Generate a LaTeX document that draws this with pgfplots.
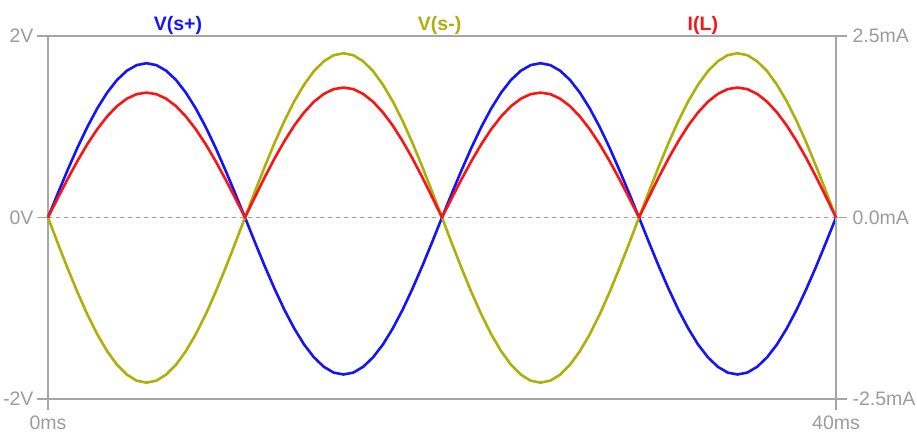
\documentclass[border=0pt]{standalone}
\usepackage{fontspec}
\setmainfont{Liberation Sans}
\usepackage{pgfplots}
\usepackage{pgfplotstable}
\pgfplotsset{compat=1.18}

\definecolor{vsp}{RGB}{20,20,250}
\definecolor{vsm}{RGB}{175,175,10}
\definecolor{il}{RGB}{250,20,20}
\definecolor{axgray}{RGB}{165,165,165}
\definecolor{lblgray}{RGB}{155,155,160}

% t [ms], V(s+) [V], V(s-) [V], I(L) [mA]
\pgfplotstableread{
t vsp vsm il
0 0 0 0
0.5 0.266 -0.285 0.269
1 0.525 -0.562 0.531
1.5 0.772 -0.826 0.781
2 0.999 -1.070 1.011
2.5 1.202 -1.287 1.216
3 1.375 -1.472 1.391
3.5 1.515 -1.622 1.533
4 1.617 -1.731 1.636
4.5 1.679 -1.798 1.699
5 1.700 -1.820 1.720
5.5 1.679 -1.798 1.699
6 1.617 -1.731 1.636
6.5 1.515 -1.622 1.533
7 1.375 -1.472 1.391
7.5 1.202 -1.287 1.216
8 0.999 -1.070 1.011
8.5 0.772 -0.826 0.781
9 0.525 -0.562 0.531
9.5 0.266 -0.285 0.269
10 0 0 0
10.5 -0.271 0.283 0.280
11 -0.535 0.559 0.553
11.5 -0.785 0.822 0.813
12 -1.017 1.064 1.052
12.5 -1.223 1.280 1.266
13 -1.400 1.464 1.448
13.5 -1.541 1.613 1.595
14 -1.645 1.721 1.702
14.5 -1.709 1.788 1.768
15 -1.730 1.810 1.790
15.5 -1.709 1.788 1.768
16 -1.645 1.721 1.702
16.5 -1.541 1.613 1.595
17 -1.400 1.464 1.448
17.5 -1.223 1.280 1.266
18 -1.017 1.064 1.052
18.5 -0.785 0.822 0.813
19 -0.535 0.559 0.553
19.5 -0.271 0.283 0.280
20 0 0 0
20.5 0.266 -0.285 0.269
21 0.525 -0.562 0.531
21.5 0.772 -0.826 0.781
22 0.999 -1.070 1.011
22.5 1.202 -1.287 1.216
23 1.375 -1.472 1.391
23.5 1.515 -1.622 1.533
24 1.617 -1.731 1.636
24.5 1.679 -1.798 1.699
25 1.700 -1.820 1.720
25.5 1.679 -1.798 1.699
26 1.617 -1.731 1.636
26.5 1.515 -1.622 1.533
27 1.375 -1.472 1.391
27.5 1.202 -1.287 1.216
28 0.999 -1.070 1.011
28.5 0.772 -0.826 0.781
29 0.525 -0.562 0.531
29.5 0.266 -0.285 0.269
30 0 0 0
30.5 -0.271 0.283 0.280
31 -0.535 0.559 0.553
31.5 -0.785 0.822 0.813
32 -1.017 1.064 1.052
32.5 -1.223 1.280 1.266
33 -1.400 1.464 1.448
33.5 -1.541 1.613 1.595
34 -1.645 1.721 1.702
34.5 -1.709 1.788 1.768
35 -1.730 1.810 1.790
35.5 -1.709 1.788 1.768
36 -1.645 1.721 1.702
36.5 -1.541 1.613 1.595
37 -1.400 1.464 1.448
37.5 -1.223 1.280 1.266
38 -1.017 1.064 1.052
38.5 -0.785 0.822 0.813
39 -0.535 0.559 0.553
39.5 -0.271 0.283 0.280
40 0 0 0
}\wave

\pgfplotsset{
  scopestyle/.style={
    width=788pt, height=363pt, scale only axis,
    xmin=0, xmax=40,
    axis line style={axgray, line width=1.6pt},
    major tick style={axgray, line width=1.6pt},
    tick align=outside, major tick length=11pt,
    tick label style={lblgray, font=\fontsize{19.5}{21}\selectfont},
    clip=false,
  }
}

\begin{document}
\begin{tikzpicture}
\useasboundingbox (-48pt,-36pt) rectangle (869pt,399pt);

\begin{axis}[scopestyle,
  ymin=-2, ymax=2,
  xtick={0,40}, xticklabels={0ms,40ms}, xtick pos=bottom,
  ytick={-2,0,2}, yticklabels={-2V,0V,2V}, ytick pos=left,
  xticklabel style={yshift=-2pt},
]
\addplot[lblgray, line width=0.8pt, dash pattern=on 4pt off 4pt] coordinates {(0,0) (40,0)};
\addplot[vsp, line width=2.6pt, line join=round] table[x=t, y=vsp] {\wave};
\addplot[vsm, line width=2.6pt, line join=round] table[x=t, y=vsm] {\wave};
\node[anchor=base, text=vsp, font=\bfseries\fontsize{19.5}{21}\selectfont] at (rel axis cs:0.165,1.014) {V(s+)};
\node[anchor=base, text=vsm, font=\bfseries\fontsize{19.5}{21}\selectfont] at (rel axis cs:0.497,1.014) {V(s-)};
\node[anchor=base, text=il, font=\bfseries\fontsize{19.5}{21}\selectfont] at (rel axis cs:0.831,1.014) {I(L)};
\end{axis}

\begin{axis}[scopestyle,
  ymin=-2.5, ymax=2.5,
  axis x line=none, axis y line*=right,
  ytick={-2.5,0,2.5}, yticklabels={-2.5mA,0.0mA,2.5mA},
  y axis line style={-},
  yticklabel style={xshift=2pt},
]
\addplot[il, line width=2.6pt, line join=round] table[x=t, y=il] {\wave};
\end{axis}
\end{tikzpicture}
\end{document}
